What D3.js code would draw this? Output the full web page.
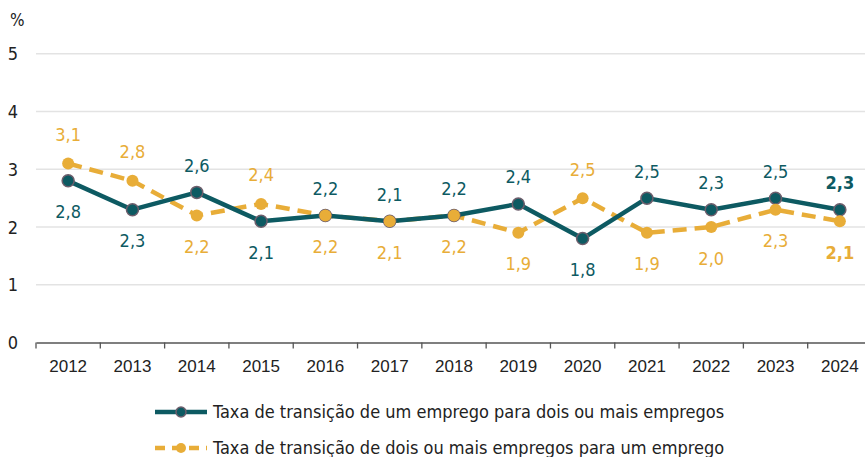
<!DOCTYPE html>
<html>
<head>
<meta charset="utf-8">
<script src="https://cdn.jsdelivr.net/npm/d3@7/dist/d3.min.js"></script>
<style>
  html, body { margin: 0; padding: 0; background: #fff; }
  svg { display: block; font-family: "DejaVu Sans Condensed", "DejaVu Sans", sans-serif; font-stretch: condensed; }
</style>
</head>
<body>
<svg id="chart" width="865" height="457"></svg>
<script>
// Anos observados
const years = ["2012","2013","2014","2015","2016","2017","2018","2019","2020","2021","2022","2023","2024"];
// Taxa de transição de um emprego para dois ou mais empregos (%)
const oneToMany = [2.8, 2.3, 2.6, 2.1, 2.2, 2.1, 2.2, 2.4, 1.8, 2.5, 2.3, 2.5, 2.3];
// Taxa de transição de dois ou mais empregos para um emprego (%)
const manyToOne = [3.1, 2.8, 2.2, 2.4, 2.2, 2.1, 2.2, 1.9, 2.5, 1.9, 2.0, 2.3, 2.1];
const yTicks = [0, 1, 2, 3, 4, 5];
const seriesNames = [
  "Taxa de transição de um emprego para dois ou mais empregos",
  "Taxa de transição de dois ou mais empregos para um emprego"
];

const teal = "#0d5a62";
const gold = "#e8ad38";
const fmt = v => d3.format(".1f")(v).replace(".", ",");

const svg = d3.select("#chart");
const x = d3.scaleBand().domain(years).range([36, 872]);
const y = d3.scaleLinear().domain([0, 5]).range([342.5, 53.8]);

// Linhas de grade horizontais
svg.append("g").selectAll("line").data(yTicks.filter(t => t > 0)).join("line")
  .attr("x1", 36).attr("x2", 865)
  .attr("y1", d => y(d)).attr("y2", d => y(d))
  .attr("stroke", "#e3e3e3").attr("stroke-width", 1.5);

// Eixo Y (apenas rótulos)
svg.append("g").selectAll("text").data(yTicks).join("text")
  .attr("x", 13).attr("y", d => y(d)).attr("dy", "0.36em")
  .attr("text-anchor", "middle").attr("font-size", 18).attr("fill", "#222")
  .text(d => d);
svg.append("text").attr("x", 10).attr("y", 26).attr("font-size", 17).attr("fill", "#222").text("%");

// Eixo X
const xAxis = svg.append("g").attr("transform", `translate(0,${y(0)})`)
  .call(d3.axisBottom(x).tickSize(0).tickPadding(17));
xAxis.select(".domain").attr("stroke", "#555").attr("stroke-width", 1.3);
xAxis.selectAll("text").attr("font-size", 17).attr("fill", "#222")
  .attr("font-family", null);
xAxis.selectAll(".tick line").remove();
// Marcas entre categorias
svg.append("g").selectAll("line").data(d3.range(years.length + 1)).join("line")
  .attr("x1", i => 36 + i * x.step()).attr("x2", i => 36 + i * x.step())
  .attr("y1", y(0)).attr("y2", y(0) + 6)
  .attr("stroke", "#555").attr("stroke-width", 1.3);

const cx = (d, i) => x(years[i]) + x.bandwidth() / 2;
const line = d3.line().x((d, i) => cx(d, i)).y(d => y(d));

// Série: dois ou mais -> um (tracejada)
svg.append("path").datum(manyToOne)
  .attr("d", line).attr("fill", "none").attr("stroke", gold)
  .attr("stroke-width", 4.5).attr("stroke-dasharray", "14,8");

// Série: um -> dois ou mais (contínua)
svg.append("path").datum(oneToMany)
  .attr("d", line).attr("fill", "none").attr("stroke", teal)
  .attr("stroke-width", 4.5).attr("stroke-linejoin", "round");

svg.append("g").selectAll("circle").data(oneToMany).join("circle")
  .attr("cx", cx).attr("cy", d => y(d)).attr("r", 6)
  .attr("fill", teal).attr("stroke", "#6d5e6c").attr("stroke-width", 1.5);

svg.append("g").selectAll("circle").data(manyToOne).join("circle")
  .attr("cx", cx).attr("cy", d => y(d)).attr("r", 6)
  .attr("fill", gold);

// Rótulos de valores: a série mais alta fica com o rótulo acima
const last = years.length - 1;
svg.append("g").selectAll("text").data(oneToMany).join("text")
  .attr("x", cx)
  .attr("y", (d, i) => d >= manyToOne[i] ? y(d) - 27 : y(d) + 31)
  .attr("dy", "0.36em").attr("text-anchor", "middle")
  .attr("font-size", 18).attr("fill", teal)
  .attr("font-weight", (d, i) => i === last ? "bold" : "normal")
  .text(fmt);

svg.append("g").selectAll("text").data(manyToOne).join("text")
  .attr("x", cx)
  .attr("y", (d, i) => oneToMany[i] >= d ? y(d) + 31 : y(d) - 29)
  .attr("dy", "0.36em").attr("text-anchor", "middle")
  .attr("font-size", 18).attr("fill", gold)
  .attr("font-weight", (d, i) => i === last ? "bold" : "normal")
  .text(fmt);

// Legenda
const legend = svg.append("g");
const items = [
  { name: seriesNames[0], color: teal, dash: null, stroke: "#6d5e6c" },
  { name: seriesNames[1], color: gold, dash: "10,7", stroke: "none" }
];
items.forEach((it, k) => {
  const ly = 412 + k * 36;
  legend.append("line").attr("x1", 155).attr("x2", 207).attr("y1", ly).attr("y2", ly)
    .attr("stroke", it.color).attr("stroke-width", 4.5)
    .attr("stroke-dasharray", it.dash);
  legend.append("circle").attr("cx", 181).attr("cy", ly).attr("r", 5)
    .attr("fill", it.color).attr("stroke", it.stroke).attr("stroke-width", 1.5);
  legend.append("text").attr("x", 213).attr("y", ly).attr("dy", "0.35em")
    .attr("font-size", 18).attr("fill", "#222").text(it.name);
});
</script>
</body>
</html>
